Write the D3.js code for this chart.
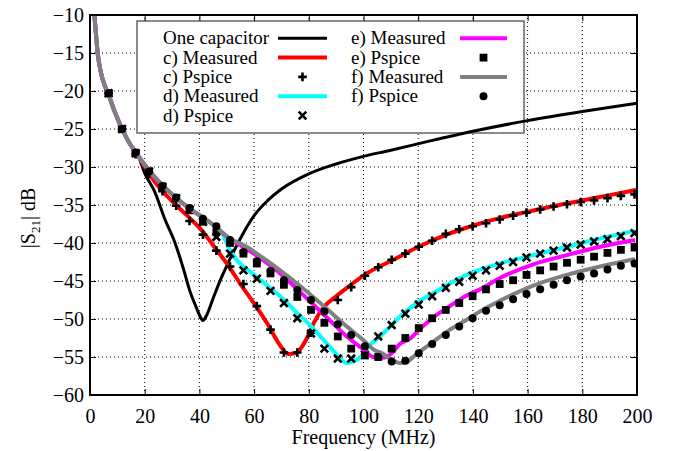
<!DOCTYPE html>
<meta charset="utf-8">
<script src="https://d3js.org/d3.v7.min.js"></script>
<head>
<style>
  body { margin: 0; background: #fff; }
  svg text { font-family: "Liberation Serif", "DejaVu Serif", serif !important; fill: #000; }
</style>
</head>
<body>
<div id="my_dataviz"></div>
<script>

// ---- data ----
var xTicks = [0, 20, 40, 60, 80, 100, 120, 140, 160, 180, 200];
var yTicks = [-10, -15, -20, -25, -30, -35, -40, -45, -50, -55, -60];

// frequencies (MHz) of the Pspice points
var pspiceFreq = [6.8, 11.7, 16.7, 21.6, 26.5, 31.5, 36.4, 41.3, 46.2, 51.2,
                  56.1, 61.0, 66.0, 70.9, 75.8, 80.8, 85.7, 90.6, 95.5, 100.5,
                  105.4, 110.3, 115.3, 120.2, 125.1, 130.1, 135.0, 139.9, 144.8, 149.8,
                  154.7, 159.6, 164.6, 169.5, 174.4, 179.4, 184.3, 189.2, 194.1, 199.1];

var cPspice = [-20.3, -25.0, -28.3, -30.9, -33.2, -35.1, -37.1, -38.9, -41.0, -43.1,
               -45.4, -48.3, -51.4, -54.4, -54.4, -51.8, -49.0, -47.5, -45.8, -44.3,
               -43.2, -42.2, -41.4, -40.5, -39.7, -38.8, -38.2, -37.8, -37.4, -36.9,
               -36.4, -36.0, -35.6, -35.2, -34.9, -34.6, -34.4, -34.1, -33.8, -33.6];

var dPspice = [-20.3, -25.0, -28.2, -30.6, -32.6, -34.1, -35.6, -37.2, -39.2, -41.4,
               -43.6, -44.7, -46.3, -47.9, -49.9, -51.9, -53.9, -55.2, -55.2, -53.9,
               -52.3, -50.8, -49.3, -48.1, -47.0, -45.9, -45.1, -44.3, -43.6, -43.0,
               -42.5, -41.9, -41.4, -41.0, -40.6, -40.2, -39.8, -39.5, -39.1, -38.7];

var ePspice = [-20.3, -25.0, -28.2, -30.6, -32.6, -34.1, -35.7, -37.2, -38.6, -40.0,
               -41.4, -42.7, -44.0, -45.5, -47.1, -48.8, -50.5, -52.3, -53.9, -54.8,
               -55.0, -53.9, -52.5, -51.2, -49.9, -48.8, -47.9, -47.0, -46.1, -45.4,
               -44.9, -44.2, -43.6, -43.1, -42.6, -42.2, -41.8, -41.3, -40.9, -40.6];

var fPspice = [-20.3, -25.0, -28.1, -30.6, -32.5, -34.0, -35.4, -36.8, -37.8, -39.6,
               -41.2, -42.4, -43.7, -44.9, -46.2, -47.5, -49.0, -50.7, -52.1, -53.6,
               -55.0, -55.6, -55.5, -54.5, -53.3, -52.1, -51.0, -49.9, -48.9, -48.2,
               -47.4, -46.7, -46.1, -45.5, -44.9, -44.4, -44.0, -43.5, -43.0, -42.7];

// low-frequency part shared by all measured curves
var sharedFreq = [1.6, 2.2, 2.8, 4, 5.5, 6.8, 9, 11.5, 14, 17.6];
var sharedDb   = [-10, -12.6, -15, -17.6, -19.4, -20.5, -22.7, -24.8, -26.6, -28.5];

var oneCapFreq = [20, 23.6, 27.3, 31, 34, 36.6, 39, 40.3, 41.3, 42.5, 45, 48, 50, 52, 55, 58, 60,
                  65, 70, 80, 90, 100, 110, 124, 140, 160, 180, 200];
var oneCapDb   = [-30.8, -33.2, -36.8, -39.9, -43.2, -46.4, -48.6, -49.7, -50.2, -49.6, -47.3, -44.6, -43, -41.5, -39.4, -37.5, -36.4,
                  -34.4, -32.9, -30.9, -29.6, -28.6, -27.8, -26.6, -25.3, -23.9, -22.7, -21.6];

var cMeasFreq = [20, 23.6, 29.7, 35.8, 40.8, 45, 51.2, 55, 59.7, 65, 69, 72.5, 75, 77, 79.2, 82, 85.3,
                 90, 95, 101.2, 110.9, 120.7, 130.4, 140.2, 150, 160, 170, 180, 190, 200];
var cMeasDb   = [-30.0, -31.9, -34.4, -36.5, -38.3, -40.3, -43.3, -45.4, -47.8, -50.7, -53.2, -54.6, -54.5, -53.9, -52.6, -50.4, -48.5,
                 -47.0, -45.6, -44.0, -42.2, -40.4, -38.9, -37.7, -36.7, -35.9, -35.1, -34.4, -33.7, -33.0];

var dMeasFreq = [20, 23.6, 29.7, 35.8, 41.9, 45, 48, 51, 54, 57.3, 61, 65.8, 70.7, 76, 81, 85.5, 89,
                 93.9, 96, 99, 101.2, 107.2, 113.3, 119.4, 125.5, 137.7, 149.9, 162.1, 174.3, 186.5, 199.3];
var dMeasDb   = [-29.7, -31.3, -33.5, -35.3, -36.8, -37.6, -38.5, -40.8, -42.4, -43.4, -44.5, -45.9, -47.4, -49.3, -51.0, -52.8, -54.2,
                 -55.8, -55.6, -55.0, -53.9, -51.9, -49.7, -47.9, -46.6, -44.2, -42.7, -41.6, -40.5, -39.4, -38.4];

var eMeasFreq = [20, 23.6, 29.7, 35.8, 41.9, 45, 51.2, 57.3, 63.4, 69.5, 75.6, 81.6, 87.7, 93.9, 100,
                 103.6, 107.2, 110, 113.3, 117, 121, 125.5, 131.6, 137.7, 142.6, 149.9, 162.1, 174.3, 186.5, 199.3];
var eMeasDb   = [-29.7, -31.3, -33.5, -35.3, -36.8, -37.6, -39.5, -40.8, -42.3, -44.0, -46.0, -48.1, -50.2, -52.3, -54.0,
                 -55.0, -55.1, -54.6, -53.3, -52.6, -51.2, -49.8, -48.3, -46.9, -46.1, -44.6, -42.8, -41.6, -40.5, -39.6];

var fMeasFreq = [20, 23.6, 29.7, 35.8, 41.9, 45, 51.2, 57.3, 63.4, 69.5, 75.6, 81.6, 87.7, 93.9, 100,
                 103.6, 107.2, 110, 113.3, 116, 119.4, 125.5, 131.6, 137.7, 142.6, 149.9, 162.1, 174.3, 186.5, 199.3];
var fMeasDb   = [-29.7, -31.3, -33.5, -35.3, -36.8, -37.6, -39.4, -40.5, -42.0, -43.6, -45.3, -47.1, -49.0, -51.0, -52.8,
                 -54.0, -54.6, -55.3, -55.8, -55.6, -54.6, -53.0, -51.4, -50.1, -49.0, -47.6, -45.6, -44.2, -43.1, -42.1];

// ---- layout ----
var margin = {top: 15, right: 36, bottom: 56, left: 90},
    width = 673 - margin.left - margin.right,
    height = 451 - margin.top - margin.bottom;
var serif = "'Liberation Serif', 'DejaVu Serif', serif";

var svg = d3.select("#my_dataviz")
  .append("svg")
    .attr("width", 673)
    .attr("height", 451);

var x = d3.scaleLinear().domain([0, 200]).range([margin.left, margin.left + width]);
var y = d3.scaleLinear().domain([-60, -10]).range([margin.top + height, margin.top]);

// grid
var grid = svg.append("g");
grid.selectAll("line.gx")
  .data(xTicks.slice(1, -1))
  .enter().append("line")
    .attr("x1", function(d) { return x(d); })
    .attr("x2", function(d) { return x(d); })
    .attr("y1", y(-60)).attr("y2", y(-10))
    .attr("stroke", "#000").attr("stroke-width", 1)
    .attr("stroke-dasharray", "1,3");
grid.selectAll("line.gy")
  .data(yTicks.slice(1, -1))
  .enter().append("line")
    .attr("y1", function(d) { return y(d); })
    .attr("y2", function(d) { return y(d); })
    .attr("x1", x(0)).attr("x2", x(200))
    .attr("stroke", "#000").attr("stroke-width", 1)
    .attr("stroke-dasharray", "1,3");

// legend box (blanks the grid behind it)
var legX = 137, legY = 21, legW = 387, legH = 112;
svg.append("rect")
  .attr("x", legX).attr("y", legY)
  .attr("width", legW).attr("height", legH)
  .attr("fill", "#fff")
  .attr("stroke", "#666").attr("stroke-width", 1.5);

// axes with inward ticks
function styleAxis(g) {
  g.attr("font-family", serif);
  g.select(".domain").remove();
  g.selectAll(".tick line").attr("stroke", "#000").attr("stroke-width", 1);
  g.selectAll("text").style("font-size", "20px").style("font-family", serif);
}
svg.append("g")
  .attr("transform", "translate(0," + y(-60) + ")")
  .call(d3.axisBottom(x).tickValues(xTicks).tickSize(-6).tickPadding(10).tickFormat(d3.format("d")))
  .call(styleAxis)
  .selectAll("text").attr("dy", "0.9em");
svg.append("g")
  .attr("transform", "translate(0," + y(-10) + ")")
  .call(d3.axisTop(x).tickValues(xTicks).tickSize(-6).tickFormat(""))
  .call(styleAxis);
svg.append("g")
  .attr("transform", "translate(" + x(0) + ",0)")
  .call(d3.axisLeft(y).tickValues(yTicks).tickSize(-6).tickPadding(6).tickFormat(d3.format("d")))
  .call(styleAxis);
svg.append("g")
  .attr("transform", "translate(" + x(200) + ",0)")
  .call(d3.axisRight(y).tickValues(yTicks).tickSize(-6).tickFormat(""))
  .call(styleAxis);

// clip
svg.append("clipPath").attr("id", "clip")
  .append("rect").attr("x", x(0)).attr("y", y(-10)).attr("width", width).attr("height", height);

var plot = svg.append("g").attr("clip-path", "url(#clip)");

var line = d3.line()
  .x(function(d) { return x(d[0]); })
  .y(function(d) { return y(d[1]); })
  .curve(d3.curveMonotoneX);

function pairs(fr, db) { return fr.map(function(f, i) { return [f, db[i]]; }); }
function withShared(fr, db) { return pairs(sharedFreq, sharedDb).concat(pairs(fr, db)); }

function drawLine(data, color, w) {
  plot.append("path")
    .datum(data)
    .attr("fill", "none")
    .attr("stroke", color)
    .attr("stroke-width", w)
    .attr("stroke-linejoin", "round")
    .attr("d", line);
}

// marker shapes
function marker(g, type, cx, cy) {
  if (type === "plus") {
    g.append("path").attr("d", "M" + (cx - 4.3) + "," + cy + "H" + (cx + 4.3) + "M" + cx + "," + (cy - 4.3) + "V" + (cy + 4.3))
      .attr("stroke", "#000").attr("stroke-width", 2.6);
  } else if (type === "cross") {
    g.append("path").attr("d", "M" + (cx - 3.8) + "," + (cy - 3.8) + "L" + (cx + 3.8) + "," + (cy + 3.8) +
                               "M" + (cx - 3.8) + "," + (cy + 3.8) + "L" + (cx + 3.8) + "," + (cy - 3.8))
      .attr("stroke", "#000").attr("stroke-width", 2.6);
  } else if (type === "square") {
    g.append("rect").attr("x", cx - 3.9).attr("y", cy - 3.9).attr("width", 7.8).attr("height", 7.8).attr("fill", "#000");
  } else {
    g.append("circle").attr("cx", cx).attr("cy", cy).attr("r", 4).attr("fill", "#000");
  }
}
function drawPoints(vals, type) {
  var g = plot.append("g");
  vals.forEach(function(v, i) { marker(g, type, x(pspiceFreq[i]), y(v)); });
}

drawLine(withShared(oneCapFreq, oneCapDb), "#000", 3);
drawLine(withShared(cMeasFreq, cMeasDb), "#ff0000", 4);
drawPoints(cPspice, "plus");
drawLine(withShared(dMeasFreq, dMeasDb), "#00ffff", 4);
drawPoints(dPspice, "cross");
drawLine(withShared(eMeasFreq, eMeasDb), "#ff00ff", 4);
drawPoints(ePspice, "square");
drawLine(withShared(fMeasFreq, fMeasDb), "#808080", 4);
drawPoints(fPspice, "circle");

// frame
svg.append("rect")
  .attr("x", x(0)).attr("y", y(-10))
  .attr("width", width).attr("height", height)
  .attr("fill", "none").attr("stroke", "#000").attr("stroke-width", 2);

// legend entries
var legendItems = [
  {label: "One capacitor", kind: "line", color: "#000", w: 3},
  {label: "c) Measured", kind: "line", color: "#ff0000", w: 4},
  {label: "c) Pspice", kind: "plus"},
  {label: "d) Measured", kind: "line", color: "#00ffff", w: 4},
  {label: "d) Pspice", kind: "cross"},
  {label: "e) Measured", kind: "line", color: "#ff00ff", w: 4},
  {label: "e) Pspice", kind: "square"},
  {label: "f) Measured", kind: "line", color: "#808080", w: 4},
  {label: "f) Pspice", kind: "circle"}
];
var leg = svg.append("g");
legendItems.forEach(function(d, i) {
  var col = i < 5 ? 0 : 1;
  var row = col === 0 ? i : i - 5;
  var cy = 38.3 + row * 19.3;
  var tx = col === 0 ? 163 : 351;
  var sx1 = col === 0 ? 278 : 460, sx2 = col === 0 ? 327 : 507;
  leg.append("text").attr("x", tx).attr("y", cy + 6)
    .style("font-family", serif).style("font-size", "19px").text(d.label);
  if (d.kind === "line") {
    leg.append("line").attr("x1", sx1).attr("x2", sx2).attr("y1", cy).attr("y2", cy)
      .attr("stroke", d.color).attr("stroke-width", d.w);
  } else {
    marker(leg, d.kind, (sx1 + sx2) / 2, cy);
  }
});

// axis titles
svg.append("text")
  .attr("x", (x(0) + x(200)) / 2).attr("y", 444)
  .attr("text-anchor", "middle")
  .style("font-family", serif).style("font-size", "20px")
  .text("Frequency (MHz)");

var yl = svg.append("text")
  .attr("transform", "translate(35," + 218 + ") rotate(-90)")
  .attr("text-anchor", "middle")
  .style("font-family", serif).style("font-size", "20px");
yl.append("tspan").text("|S");
yl.append("tspan").attr("dy", 5).style("font-size", "13px").text("21");
yl.append("tspan").attr("dy", -5).text("| dB");

</script>
</body>
